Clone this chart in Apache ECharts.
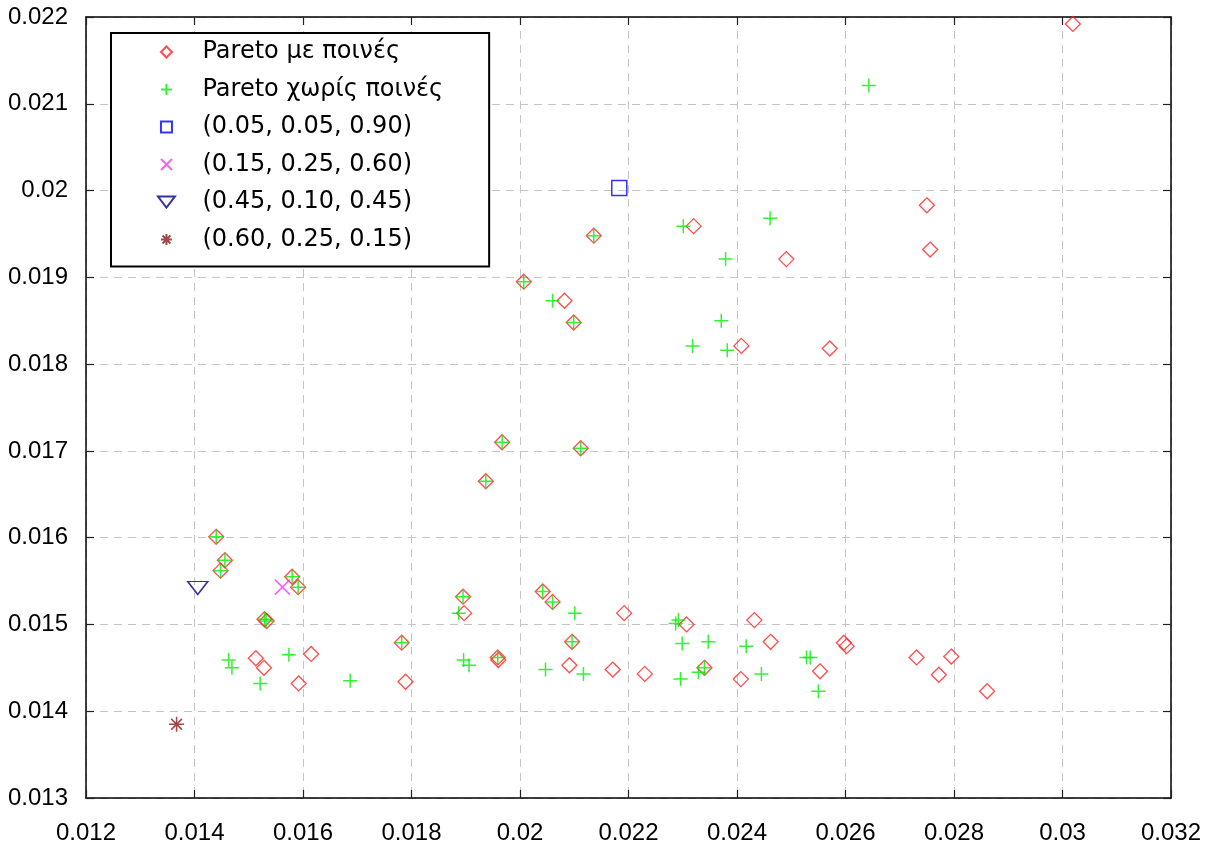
<!DOCTYPE html>
<html>
<head>
<meta charset="utf-8">
<script src="https://cdn.jsdelivr.net/npm/echarts@6/dist/echarts.min.js"></script>
<style>
html,body{margin:0;padding:0;background:#fff;}
#chart{width:1213px;height:849px;}
</style>
</head>
<body>
<div id="chart"></div>
<script>
// Series names (legend labels)
const seriesNames = [
  'Pareto με ποινές',
  'Pareto χωρίς ποινές',
  '(0.05, 0.05, 0.90)',
  '(0.15, 0.25, 0.60)',
  '(0.45, 0.10, 0.45)',
  '(0.60, 0.25, 0.15)'
];

// Axis tick values
const xTicks = [0.012, 0.014, 0.016, 0.018, 0.02, 0.022, 0.024, 0.026, 0.028, 0.03, 0.032];
const yTicks = [0.013, 0.014, 0.015, 0.016, 0.017, 0.018, 0.019, 0.02, 0.021, 0.022];

// Pareto με ποινές (red diamonds)
const paretoWithPenalty = [
  [0.03019, 0.02192], [0.0275, 0.01983], [0.02756, 0.01932], [0.02491, 0.01921],
  [0.02408, 0.01821], [0.02571, 0.01818], [0.0232, 0.01959], [0.02136, 0.01948],
  [0.02007, 0.01895], [0.02082, 0.01873], [0.02099, 0.01848], [0.01967, 0.0171],
  [0.02112, 0.01703], [0.01937, 0.01665], [0.0144, 0.01601], [0.01456, 0.01574],
  [0.01448, 0.01562], [0.0158, 0.01555], [0.01591, 0.01543], [0.01529, 0.01506],
  [0.01533, 0.01504], [0.01513, 0.01461], [0.01528, 0.0145], [0.01615, 0.01466],
  [0.01592, 0.01432], [0.01782, 0.01479], [0.01789, 0.01434], [0.01895, 0.01532],
  [0.01897, 0.01513], [0.02042, 0.01538], [0.0206, 0.01526], [0.02192, 0.01513],
  [0.02307, 0.015], [0.02432, 0.01505], [0.02096, 0.0148], [0.02462, 0.0148],
  [0.01959, 0.01462], [0.0196, 0.01459], [0.02091, 0.01453], [0.02171, 0.01448],
  [0.0223, 0.01443], [0.0234, 0.0145], [0.02407, 0.01437], [0.02553, 0.01446],
  [0.02597, 0.01479], [0.02602, 0.01475], [0.02731, 0.01462], [0.02795, 0.01463],
  [0.02772, 0.01442], [0.02861, 0.01423]
];

// Pareto χωρίς ποινές (green pluses)
const paretoNoPenalty = [
  [0.02643, 0.02121], [0.02461, 0.01968], [0.02301, 0.01959], [0.02136, 0.01948],
  [0.02379, 0.01921], [0.02007, 0.01895], [0.0206, 0.01873], [0.02371, 0.0185],
  [0.02099, 0.01848], [0.02318, 0.01821], [0.02382, 0.01816], [0.01967, 0.0171],
  [0.02112, 0.01703], [0.01937, 0.01665], [0.0144, 0.01601], [0.01456, 0.01574],
  [0.01448, 0.01562], [0.0158, 0.01555], [0.01591, 0.01543], [0.01529, 0.01506],
  [0.01532, 0.01504], [0.01463, 0.01459], [0.01469, 0.0145], [0.01521, 0.01432],
  [0.01574, 0.01465], [0.01687, 0.01435], [0.01782, 0.01479], [0.01895, 0.01532],
  [0.01887, 0.01513], [0.01896, 0.01459], [0.01906, 0.01453], [0.02042, 0.01538],
  [0.0206, 0.01526], [0.02101, 0.01513], [0.02287, 0.01501], [0.02292, 0.01505],
  [0.02096, 0.0148], [0.02299, 0.01478], [0.02347, 0.0148], [0.02417, 0.01475],
  [0.01959, 0.01462], [0.02047, 0.01448], [0.02117, 0.01443], [0.02296, 0.01437],
  [0.02329, 0.01445], [0.0234, 0.0145], [0.02445, 0.01443], [0.02528, 0.01462],
  [0.02535, 0.01462], [0.0255, 0.01423]
];

// Single weighted solutions
const weights_05_05_90 = [[0.02183, 0.02003]];
const weights_15_25_60 = [[0.01562, 0.01543]];
const weights_45_10_45 = [[0.01406, 0.01542]];
const weights_60_25_15 = [[0.01367, 0.01385]];

const DIAMOND = 'path://M7,0 L14,7 L7,14 L0,7 Z';
const SQUARE = 'path://M0,0 L14,0 L14,14 L0,14 Z';
const PLUS = 'path://M7,0 L7,14 M0,7 L14,7';
const CROSS = 'path://M0,0 L14,14 M14,0 L0,14';
const STAR = 'path://M7,0 L7,14 M0,7 L14,7 M2,2 L12,12 M12,2 L2,12';
const TRI = 'path://M0,0 L20,0 L10,13 Z';

const chart = echarts.init(document.getElementById('chart'), null, {renderer: 'canvas'});

const gridLine = {show: true, lineStyle: {color: '#c4c4c4', width: 1, type: [8, 6]}};
const frameLine = {show: true, onZero: false, lineStyle: {color: '#000', width: 1.5}};
const inTick = {show: true, inside: true, length: 8, lineStyle: {color: '#222', width: 1.2}};
const lblStyle = {fontFamily: 'Liberation Sans', fontSize: 24, color: '#000'};

function hollow(color, w) {
  return {color: 'transparent', borderColor: color, borderWidth: w};
}

chart.setOption({
  backgroundColor: '#fff',
  animation: false,
  grid: {left: 86, right: 42, top: 17, bottom: 51, containLabel: false},
  legend: {
    left: 111, top: 33,
    orient: 'vertical',
    backgroundColor: '#fff',
    borderColor: '#000', borderWidth: 2,
    padding: [6, 46, 14, 46],
    itemWidth: 62, itemHeight: 11, itemGap: 11.5,
    symbolKeepAspect: true,
    textStyle: {fontFamily: 'DejaVu Sans', fontSize: 24, color: '#000', lineHeight: 26},
    data: seriesNames
  },
  xAxis: [{
    type: 'value', min: 0.012, max: 0.032, interval: 0.002,
    axisLine: frameLine, axisTick: inTick, splitLine: gridLine,
    axisLabel: Object.assign({margin: 23}, lblStyle)
  }, {
    type: 'value', position: 'top', min: 0.012, max: 0.032, interval: 0.002,
    axisLine: frameLine, axisTick: inTick, splitLine: {show: false},
    axisLabel: {show: false}
  }],
  yAxis: [{
    type: 'value', min: 0.013, max: 0.022, interval: 0.001,
    axisLine: frameLine, axisTick: inTick, splitLine: gridLine,
    axisLabel: Object.assign({margin: 18}, lblStyle)
  }, {
    type: 'value', position: 'right', min: 0.013, max: 0.022, interval: 0.001,
    axisLine: frameLine, axisTick: inTick, splitLine: {show: false},
    axisLabel: {show: false}
  }],
  series: [
    {name: seriesNames[0], type: 'scatter', data: paretoWithPenalty,
     symbol: DIAMOND, symbolSize: 15, itemStyle: hollow('#ff2020', 1.3), z: 2},
    {name: seriesNames[1], type: 'scatter', data: paretoNoPenalty,
     symbol: PLUS, symbolSize: 14, itemStyle: hollow('#00ee00', 1.5), z: 3},
    {name: seriesNames[2], type: 'scatter', data: weights_05_05_90,
     symbol: SQUARE, symbolSize: 15, itemStyle: hollow('#0000ff', 1.5), z: 4},
    {name: seriesNames[3], type: 'scatter', data: weights_15_25_60,
     symbol: CROSS, symbolSize: 15, itemStyle: hollow('#ff33ff', 1.5), z: 4},
    {name: seriesNames[4], type: 'scatter', data: weights_45_10_45,
     symbol: TRI, symbolSize: [20, 13], itemStyle: hollow('#000080', 1.5), z: 4},
    {name: seriesNames[5], type: 'scatter', data: weights_60_25_15,
     symbol: STAR, symbolSize: 15, itemStyle: hollow('#8b1a1a', 1.5), z: 4}
  ]
});
</script>
</body>
</html>
